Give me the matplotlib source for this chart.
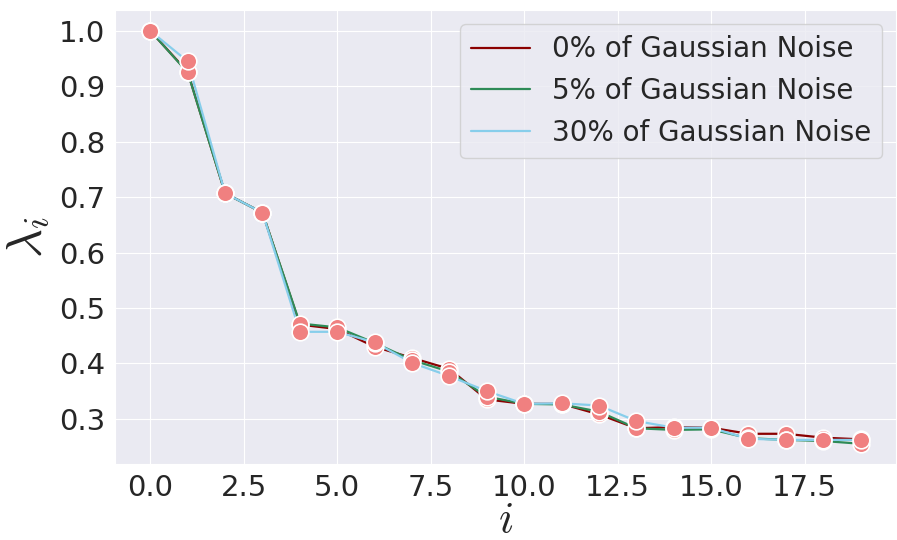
import matplotlib
matplotlib.use('Agg')
import matplotlib.pyplot as plt
import seaborn as sns
from matplotlib.ticker import FormatStrFormatter

sns.set_style('darkgrid')
plt.rcParams['mathtext.fontset'] = 'cm'

idx = list(range(20))
noise_labels = ['0% of Gaussian Noise', '5% of Gaussian Noise', '30% of Gaussian Noise']
line_colors = ['darkred', 'seagreen', 'skyblue']
x_ticks = [0, 2.5, 5, 7.5, 10, 12.5, 15, 17.5]
y_ticks = [0.3, 0.4, 0.5, 0.6, 0.7, 0.8, 0.9, 1.0]

lam_0 = [1.0, 0.926, 0.707, 0.672, 0.470, 0.462, 0.430, 0.410, 0.390, 0.335,
         0.327, 0.327, 0.308, 0.283, 0.285, 0.284, 0.273, 0.273, 0.266, 0.263]
lam_5 = [1.0, 0.925, 0.707, 0.672, 0.472, 0.465, 0.437, 0.406, 0.385, 0.340,
         0.327, 0.326, 0.313, 0.283, 0.280, 0.281, 0.265, 0.262, 0.260, 0.255]
lam_30 = [1.0, 0.945, 0.707, 0.672, 0.457, 0.457, 0.438, 0.401, 0.377, 0.350,
          0.327, 0.328, 0.324, 0.296, 0.284, 0.284, 0.264, 0.262, 0.262, 0.262]

fig, ax = plt.subplots(figsize=(8.97, 5.4), dpi=100)
fig.subplots_adjust(left=0.128, right=0.999, bottom=0.14, top=0.981)

for vals, lbl, c in zip([lam_0, lam_5, lam_30], noise_labels, line_colors):
    ax.plot(idx, vals, color=c, lw=1.6, label=lbl)
for vals in [lam_0, lam_5, lam_30]:
    ax.plot(idx, vals, ls='none', marker='o', ms=12, mfc='lightcoral',
            mec='white', mew=1.2)

ax.set_xticks(x_ticks)
ax.set_yticks(y_ticks)
ax.xaxis.set_major_formatter(FormatStrFormatter('%.1f'))
ax.set_xlabel('$i$', fontsize=32, labelpad=-3)
ax.set_ylabel(r'$\lambda_i$', fontsize=36, labelpad=6)
ax.tick_params(labelsize=21)
ax.legend(loc='upper right', fontsize=20, handlelength=2.1, handletextpad=0.8)

fig.savefig('out.png', dpi=100)
